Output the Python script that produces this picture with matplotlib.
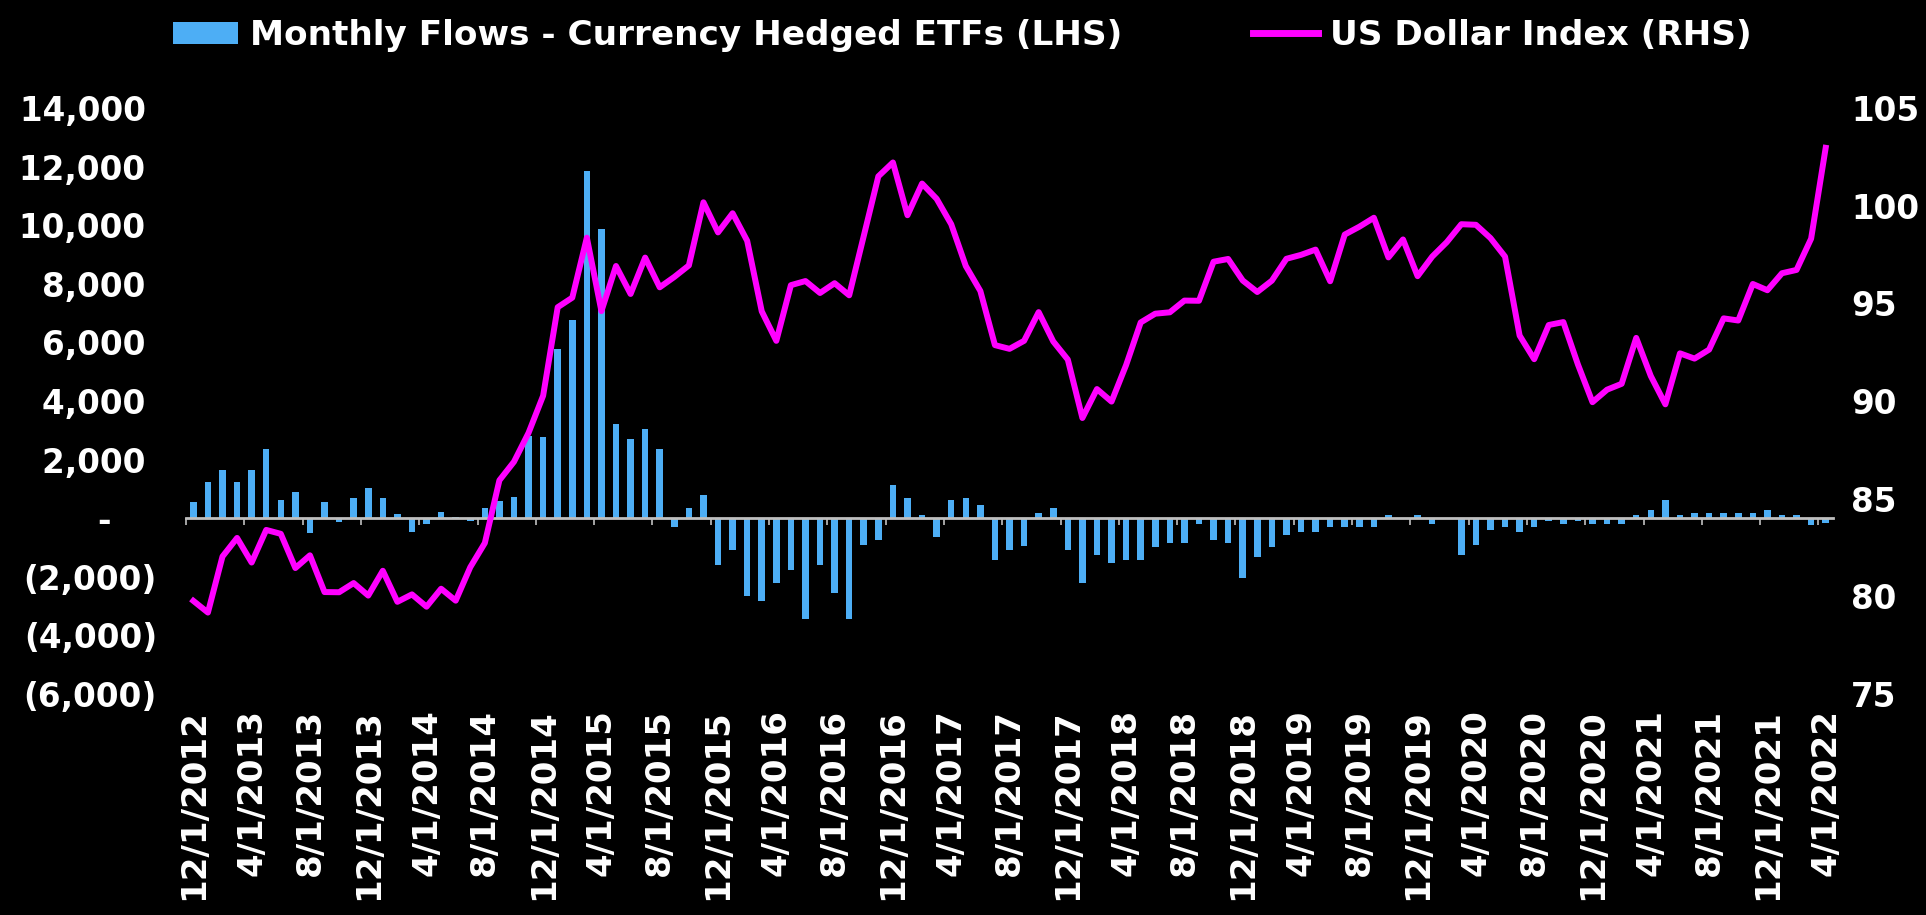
import numpy as np
import pandas as pd
import matplotlib
matplotlib.use('Agg')
import matplotlib.pyplot as plt
from matplotlib.patches import Patch
from matplotlib.lines import Line2D
from matplotlib.ticker import FuncFormatter, MultipleLocator

# monthly categories, 12/1/2012 .. 4/1/2022
months = pd.date_range('2012-12-01', '2022-04-01', freq='MS')
month_labels = [f'{d.month}/{d.day}/{d.year}' for d in months]

# Monthly flows - currency hedged ETFs ($mm, LHS)
flows = [
    550, 1230, 1660, 1230, 1660, 2350, 615, 900, -500, 550, -130, 705,        # 12/12 - 11/13
    1045, 705, 130, -480, -210, 200, 30, -100, 360, 600, 710, 2800,           # 12/13 - 11/14
    2780, 5790, 6760, 11850, 9860, 3200, 2705, 3040, 2350, -300, 350, 785,    # 12/14 - 11/15
    -1610, -1085, -2650, -2810, -2195, -1780, -3440, -1610, -2560, -3440, -915, -760,  # 12/15 - 11/16
    1140, 680, 120, -650, 615, 680, 457, -1440, -1085, -950, 190, 355,        # 12/16 - 11/17
    -1085, -2210, -1255, -1515, -1440, -1440, -990, -840, -840, -200, -730, -840,  # 12/17 - 11/18
    -2040, -1330, -985, -565, -475, -475, -310, -310, -300, -300, 125, -30,   # 12/18 - 11/19
    125, -210, -20, -1255, -900, -395, -310, -470, -300, -80, -210, -100,     # 12/19 - 11/20
    -210, -210, -210, 110, 270, 620, 100, 175, 175, 175, 175, 175,            # 12/20 - 11/21
    270, 100, 100, -220, -150,                                                # 12/21 - 4/22
]

# US Dollar Index, month end (RHS)
dxy = [
    79.77,
    79.17, 82.04, 82.99, 81.73, 83.40, 83.20, 81.45, 82.10, 80.22, 80.21, 80.68, 80.04,
    81.31, 79.72, 80.10, 79.47, 80.39, 79.78, 81.49, 82.73, 85.94, 86.89, 88.37, 90.27,
    94.80, 95.29, 98.36, 94.60, 96.91, 95.48, 97.34, 95.82, 96.35, 96.94, 100.17, 98.63,
    99.61, 98.20, 94.59, 93.08, 95.93, 96.14, 95.53, 96.03, 95.41, 98.45, 101.50, 102.21,
    99.51, 101.13, 100.35, 99.05, 96.91, 95.63, 92.86, 92.67, 93.08, 94.55, 93.05, 92.12,
    89.13, 90.61, 89.97, 91.84, 94.02, 94.47, 94.54, 95.14, 95.13, 97.13, 97.27, 96.17,
    95.58, 96.16, 97.28, 97.48, 97.75, 96.13, 98.52, 98.92, 99.38, 97.35, 98.27, 96.39,
    97.39, 98.13, 99.05, 99.02, 98.34, 97.39, 93.35, 92.14, 93.89, 94.04, 91.87, 89.94,
    90.58, 90.88, 93.23, 91.28, 89.83, 92.44, 92.17, 92.63, 94.23, 94.12, 95.99, 95.67,
    96.54, 96.71, 98.31, 102.96,
]

bar_color = '#4DAEF5'
line_color = '#FF00FF'
axis_grey = '#bfbfbf'

plt.rcParams['font.family'] = 'DejaVu Sans'
plt.rcParams['font.weight'] = 'bold'

fig = plt.figure(figsize=(19.26, 9.15), dpi=100, facecolor='black')
ax = fig.add_axes([0.0966, 0.2415, 0.8551, 0.6405])
ax.set_facecolor('black')

x = np.arange(len(months))
ax.bar(x, flows, width=0.45, color=bar_color, zorder=2)
ax.set_xlim(-0.5, len(months) - 0.5)
ax.set_ylim(-6000, 14000)
ax.yaxis.set_major_locator(MultipleLocator(2000))


def fmt_flows(v, pos):
    # accounting style: positives padded for the closing paren
    if v > 0:
        return f'{v:,.0f} '
    if v < 0:
        return f'({-v:,.0f})'
    return '-    '


ax.yaxis.set_major_formatter(FuncFormatter(fmt_flows))
ax.tick_params(axis='y', length=0, pad=21, labelsize=23.5, labelcolor='white')
for s in ['top', 'right', 'left']:
    ax.spines[s].set_visible(False)

# category axis crosses at zero, tick marks between categories every 4 months
ax.spines['bottom'].set_position(('data', 0))
ax.spines['bottom'].set_color(axis_grey)
ax.spines['bottom'].set_linewidth(2)
ax.spines['bottom'].set_zorder(3)
ax.set_xticks(np.arange(-0.5, len(months), 4))
ax.set_xticklabels([])
ax.tick_params(axis='x', length=5, width=1.2, color=axis_grey, direction='out')

# date labels sit at the bottom of the plot area
sec = ax.secondary_xaxis(0.0)
sec.set_xticks(x[::4], [month_labels[i] for i in x[::4]])
sec.tick_params(length=0, pad=11, labelsize=24.5, labelcolor='white', labelrotation=90)
sec.spines['bottom'].set_visible(False)

# dollar index on the right axis
ax2 = ax.twinx()
ax2.plot(x, dxy, color=line_color, lw=4.3, solid_joinstyle='round', zorder=4)
ax2.set_ylim(75, 105)
ax2.yaxis.set_major_locator(MultipleLocator(5))
ax2.yaxis.set_major_formatter(FuncFormatter(lambda v, p: f'{v:.0f}'))
ax2.tick_params(axis='y', length=0, pad=13, labelsize=23.5, labelcolor='white')
for s in ax2.spines.values():
    s.set_visible(False)

handles = [
    Patch(facecolor=bar_color, label='Monthly Flows - Currency Hedged ETFs (LHS)'),
    Line2D([], [], color=line_color, lw=5, label='US Dollar Index (RHS)'),
]
fig.legend(handles=handles, loc='upper center', bbox_to_anchor=(0.4995, 0.998), ncol=2,
           frameon=False, fontsize=24.7, labelcolor='white', handlelength=1.9,
           handleheight=0.6, handletextpad=0.35, columnspacing=3.8, borderaxespad=0.1)

fig.savefig('out.png', dpi=100, facecolor='black')
